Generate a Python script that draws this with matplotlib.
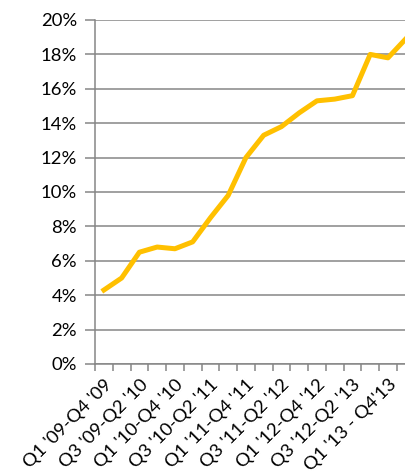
import matplotlib
matplotlib.use("Agg")
import matplotlib.pyplot as plt
from matplotlib.ticker import FixedLocator, PercentFormatter

periods = ["Q1 '09-Q4 '09", "Q2 '09-Q1 '10", "Q3 '09-Q2 '10", "Q4 '09-Q3 '10",
           "Q1 '10-Q4 '10", "Q2 '10-Q1 '11", "Q3 '10-Q2 '11", "Q4 '10-Q3 '11",
           "Q1 '11-Q4 '11", "Q2 '11-Q1 '12", "Q3 '11-Q2 '12", "Q4 '11-Q3 '12",
           "Q1 '12-Q4 '12", "Q2 '12-Q1 '13", "Q3 '12-Q2 '13", "Q4 '12-Q3 '13",
           "Q1 '13 - Q4'13", "Q2 '13 - Q1'14"]
share = [4.3, 5.0, 6.5, 6.8, 6.7, 7.1, 8.5, 9.8, 12.0, 13.3,
         13.8, 14.6, 15.3, 15.4, 15.6, 18.0, 17.8, 18.9]
y_ticks = [0, 2, 4, 6, 8, 10, 12, 14, 16, 18, 20]

plt.rcParams['font.family'] = ['Lato', 'DejaVu Sans']
grey = '#868686'

fig = plt.figure(figsize=(4.05, 4.74), dpi=100)
ax = fig.add_axes([95 / 405, 110 / 474, 1 - 95 / 405, 344 / 474])

x = list(range(len(share)))
ax.plot(x, share, color='#FFC000', linewidth=3.6, solid_joinstyle='round', zorder=3)

ax.set_ylim(0, 20)
ax.set_xlim(-0.5, 16.96)
ax.set_yticks(y_ticks)
ax.yaxis.set_major_formatter(PercentFormatter(decimals=0))
ax.grid(axis='y', color=grey, linewidth=1.1)
ax.set_axisbelow(True)

# labels on every other category, tick marks between categories
ax.set_xticks(x[::2])
ax.set_xticklabels(periods[::2], rotation=45, ha='right', rotation_mode='anchor')
ax.xaxis.set_minor_locator(FixedLocator([i - 0.5 for i in range(len(share) + 1)]))
ax.tick_params(axis='x', which='major', length=0, pad=9, labelsize=13.3, colors='black')
ax.tick_params(axis='x', which='minor', length=5, width=1.1, color=grey)
ax.tick_params(axis='y', length=7, width=1.1, color=grey, pad=6, labelsize=13.3, labelcolor='black')

for s in ['top', 'right']:
    ax.spines[s].set_visible(False)
for s in ['left', 'bottom']:
    ax.spines[s].set_color(grey)
    ax.spines[s].set_linewidth(1.1)

fig.savefig("out.png", dpi=100)
